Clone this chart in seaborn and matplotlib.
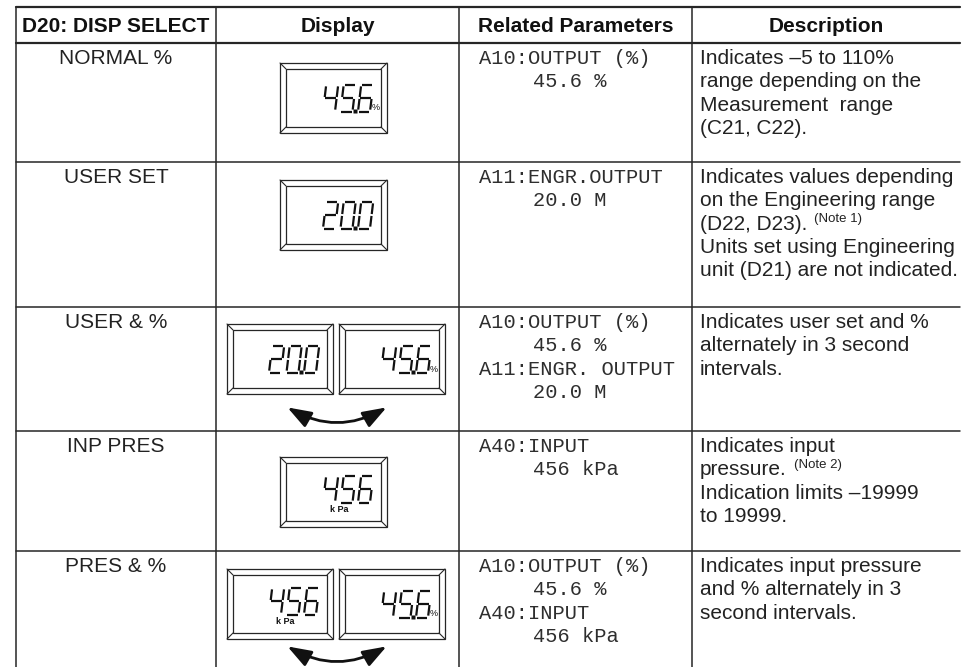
"""
D20: DISP SELECT - display mode table
"""

import matplotlib
matplotlib.use("Agg")
import matplotlib.pyplot as plt
from matplotlib.patches import FancyArrowPatch
import seaborn as sns

sns.set_theme(style="white")
plt.rcParams["font.family"] = ["Liberation Sans", "DejaVu Sans"]

# ── Table content ────────────────────────────────────────────────────────────
headers = ["D20: DISP SELECT", "Display", "Related Parameters", "Description"]

modes = ["NORMAL %", "USER SET", "USER & %", "INP PRES", "PRES & %"]

display_values = [["45.6"], ["20.0"], ["20.0", "45.6"], ["456"], ["456", "45.6"]]
display_units = [["%"], [""], ["", "%"], ["kPa"], ["kPa", "%"]]

params = [
    ["A10:OUTPUT (%)", "    45.6 %"],
    ["A11:ENGR.OUTPUT", "    20.0 M"],
    ["A10:OUTPUT (%)", "    45.6 %", "A11:ENGR. OUTPUT", "    20.0 M"],
    ["A40:INPUT", "    456 kPa"],
    ["A10:OUTPUT (%)", "    45.6 %", "A40:INPUT", "    456 kPa"],
]

descriptions = [
    ["Indicates \u20135 to 110%", "range depending on the",
     "Measurement  range", "(C21, C22)."],
    ["Indicates values depending", "on the Engineering range",
     "(D22, D23).", "Units set using Engineering",
     "unit (D21) are not indicated."],
    ["Indicates user set and %", "alternately in 3 second", "intervals."],
    ["Indicates input", "pressure.", "Indication limits \u201319999",
     "to 19999."],
    ["Indicates input pressure", "and % alternately in 3",
     "second intervals."],
]
notes = [None, (2, "(Note 1)"), None, (1, "(Note 2)"), None]

# ── Layout (pixel coordinates) ───────────────────────────────────────────────
W, H = 966, 667
col_x = [16, 216, 459, 692, 960]
header_top, header_bot = 7, 43
row_tops = [43, 162, 307, 431, 551]
box_tops = [63, 180, 324, 457, 569]
arrow_y = [None, None, 406, None, 645]
line_h = 23.3
ink = "#262626"

fig = plt.figure(figsize=(W / 100, H / 100), dpi=100)
ax = fig.add_axes([0, 0, 1, 1])
ax.set_xlim(0, W)
ax.set_ylim(H, 0)
ax.axis("off")

# grid
ax.plot([col_x[0], col_x[-1]], [header_top, header_top], color=ink, lw=1.6)
ax.plot([col_x[0], col_x[-1]], [header_bot, header_bot], color=ink, lw=1.6)
for y in row_tops[1:]:
    ax.plot([col_x[0], col_x[-1]], [y, y], color=ink, lw=1.1)
for x in col_x[:-1]:
    ax.plot([x, x], [header_top, H], color=ink, lw=1.1)

# header
for i, h in enumerate(headers):
    ax.text((col_x[i] + col_x[i + 1]) / 2, (header_top + header_bot) / 2 + 1, h,
            ha="center", va="center", fontsize=15, fontweight="bold", color="#111")

# ── Seven segment helpers ────────────────────────────────────────────────────
SEGS = {
    "0": "abcdef", "1": "bc", "2": "abdeg", "3": "abcdg", "4": "bcfg",
    "5": "acdfg", "6": "acdefg", "7": "abc", "8": "abcdefg", "9": "abcdfg",
}
g = 0.07
SEG_PTS = {
    "a": ((g, 1), (1 - g, 1)), "b": ((1, 1 - g), (1, 0.5 + g / 2)),
    "c": ((1, 0.5 - g / 2), (1, g)), "d": ((g, 0), (1 - g, 0)),
    "e": ((0, 0.5 - g / 2), (0, g)), "f": ((0, 1 - g), (0, 0.5 + g / 2)),
    "g": ((g, 0.5), (1 - g, 0.5)),
}
DW, DH, PITCH, SKEW = 12, 27, 17.5, 0.12


def draw_digit(ch, x0, ybot):
    for s in SEGS[ch]:
        (u1, v1), (u2, v2) = SEG_PTS[s]
        xs = [x0 + u1 * DW + v1 * DH * SKEW, x0 + u2 * DW + v2 * DH * SKEW]
        ys = [ybot - v1 * DH, ybot - v2 * DH]
        ax.plot(xs, ys, color="#111", lw=1.6, solid_capstyle="butt")


def draw_display(x0, y0, value, unit, w=107, h=70):
    inset = 6
    ax.add_patch(plt.Rectangle((x0, y0), w, h, fill=False, ec=ink, lw=0.9))
    ax.add_patch(plt.Rectangle((x0 + inset, y0 + inset), w - 2 * inset,
                               h - 2 * inset, fill=False, ec=ink, lw=0.9))
    for cx, cy, sx, sy in [(x0, y0, 1, 1), (x0 + w, y0, -1, 1),
                           (x0, y0 + h, 1, -1), (x0 + w, y0 + h, -1, -1)]:
        ax.plot([cx, cx + sx * inset], [cy, cy + sy * inset], color=ink, lw=0.8)
    digits = [c for c in value if c != "."]
    dot_idx = value.index(".") - 1 if "." in value else None
    right = x0 + w - 17
    start = right - (len(digits) - 1) * PITCH - DW
    shift = -3 if unit == "kPa" else 0
    ybot = y0 + h / 2 + DH / 2 + shift
    for i, ch in enumerate(digits):
        draw_digit(ch, start + i * PITCH, ybot)
    if dot_idx is not None:
        px = start + dot_idx * PITCH + DW + 2.5
        ax.plot([px], [ybot - 1], marker="s", ms=2.4, color="#111", mec="none")
    if unit == "%":
        ax.text(right + 2, ybot + 1, "%", fontsize=6.5, ha="left", va="bottom",
                color="#111")
    elif unit == "kPa":
        ax.text(start + 16, ybot + 2, "k Pa", fontsize=6.5, fontweight="bold",
                ha="center", va="top", color="#111")


# ── Rows ─────────────────────────────────────────────────────────────────────
renderer = fig.canvas.get_renderer()
for r, top in enumerate(row_tops):
    ty = top + 15.5
    ax.text((col_x[0] + col_x[1]) / 2, ty, modes[r], ha="center", va="center",
            fontsize=15, color="#222")

    vals = display_values[r]
    if len(vals) == 1:
        draw_display(280, box_tops[r], vals[0], display_units[r][0])
    else:
        draw_display(227, box_tops[r], vals[0], display_units[r][0], w=106)
        draw_display(339, box_tops[r], vals[1], display_units[r][1], w=106)
        ay = arrow_y[r]
        arr = FancyArrowPatch((285, ay), (389, ay),
                              arrowstyle="<|-|>,head_length=0.9,head_width=0.32",
                              connectionstyle="arc3,rad=0.3",
                              mutation_scale=16, lw=2.0, color="#111")
        ax.add_patch(arr)

    for i, line in enumerate(params[r]):
        x = 533 if line.startswith(" ") else 479
        ax.text(x, ty + i * line_h, line.strip(), ha="left", va="center",
                fontsize=14.7, family=["Liberation Mono", "DejaVu Sans Mono"],
                color="#2e2e2e")

    for i, line in enumerate(descriptions[r]):
        t = ax.text(700, ty + i * line_h, line, ha="left", va="center",
                    fontsize=15, color="#222")
        if notes[r] is not None and notes[r][0] == i:
            bb = t.get_window_extent(renderer=renderer)
            ax.text(bb.x1 + 7, ty + i * line_h - 5, notes[r][1], ha="left",
                    va="center", fontsize=9.5, color="#222")

fig.savefig("out.png", dpi=100)
